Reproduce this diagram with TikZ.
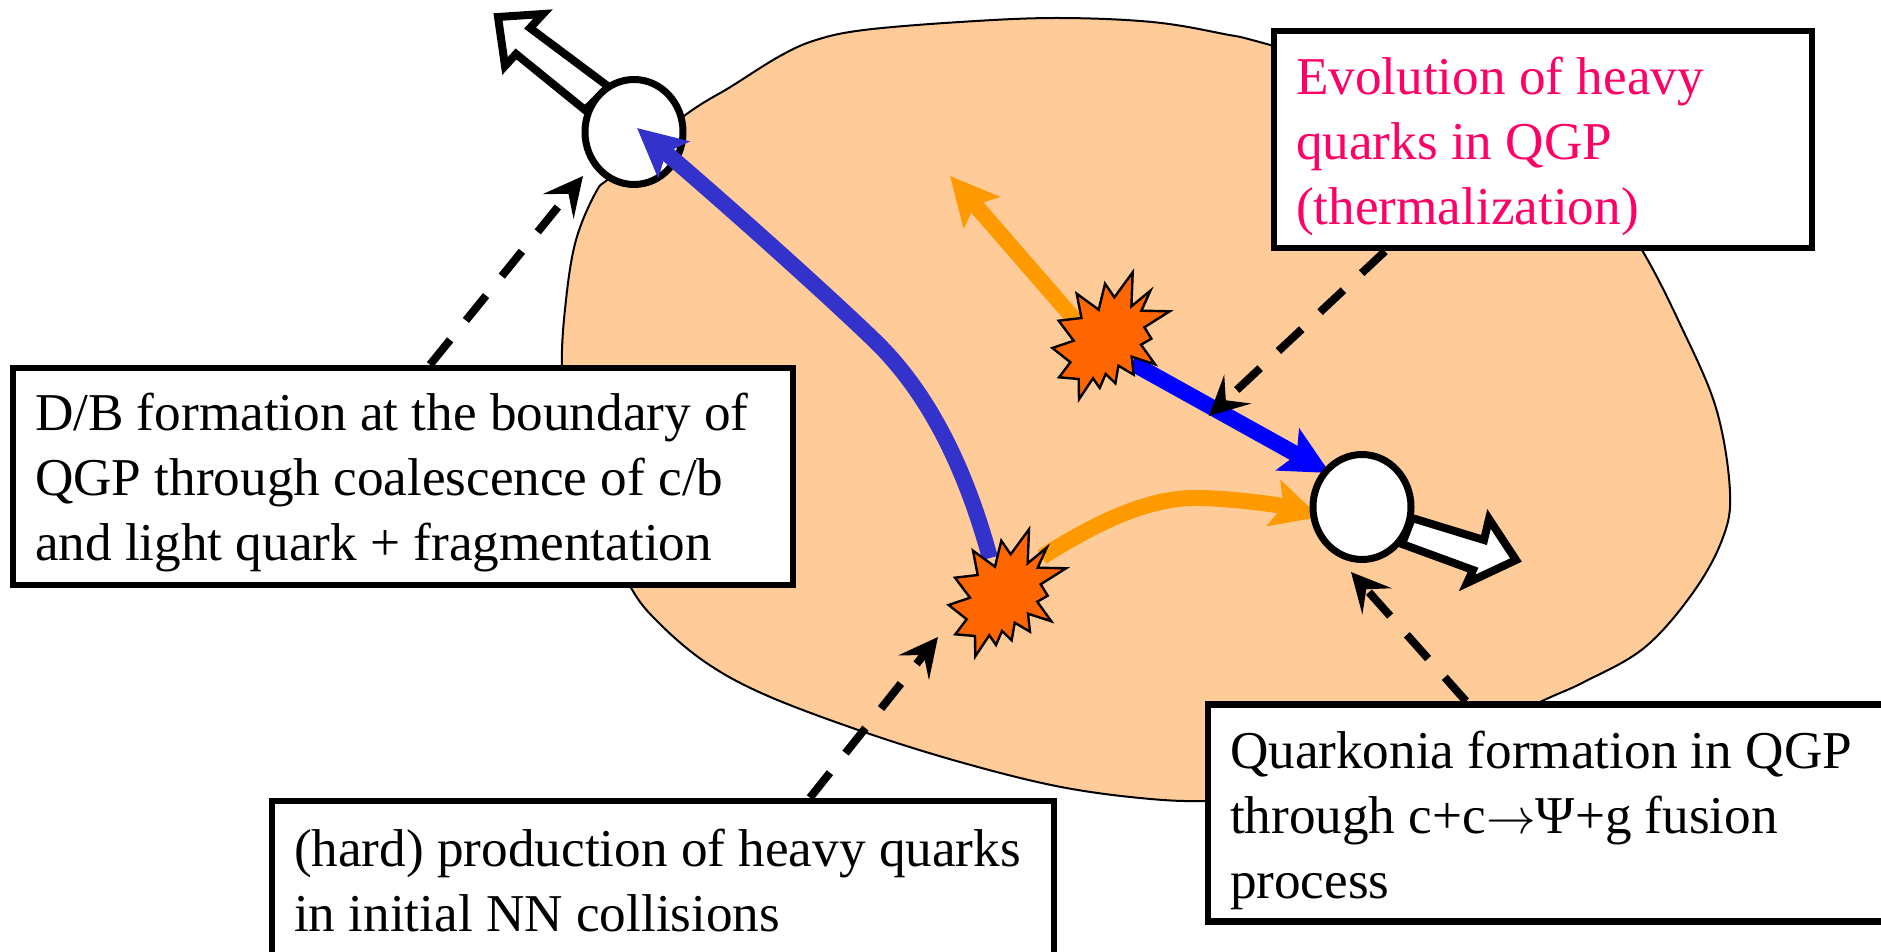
\documentclass[tikz,border=0pt]{standalone}
\usepackage{fontspec}
\setmainfont{Liberation Serif}
\usetikzlibrary{arrows.meta,shapes.geometric}
\definecolor{blobcol}{HTML}{FFCC99}
\definecolor{burstcol}{HTML}{FF6600}
\definecolor{orangearrow}{HTML}{FF9900}
\definecolor{darkblue}{HTML}{3333CC}
\definecolor{pureblue}{HTML}{0000FF}
\definecolor{pinktext}{HTML}{FF0066}
\newcommand{\burstshape}{(995,566.7)--(1001.3,540.7)--(1010.7,554.3)--(1029,529.3)--(1027.7,563.3)--(1046.7,547.7)--(1037.7,567.7)--(1066,568.3)--(1040.7,584.3)--(1047.7,595.7)--(1037.3,601.7)--(1051.3,621.3)--(1028,613.7)--(1030,631.7)--(1014.7,622.7)--(1011.7,640.3)--(1002,631)--(996,645)--(989.3,635.3)--(975.3,656.3)--(975,636)--(955.3,634.3)--(966.7,619.3)--(948.7,605)--(970,597.7)--(955,577.7)--(977.7,575)--(973,550.7)--cycle}
\newcommand{\tightsp}{\spaceskip=.25em\xspaceskip=.25em\relax}
\begin{document}
\begin{tikzpicture}[x=0.5pt,y=-0.5pt,
  textbox/.style={draw=black,line width=3.3pt,fill=white,align=left,inner ysep=0pt,inner xsep=11pt,font=\fontsize{26.6}{32.5}\selectfont,anchor=center},
  dashedconn/.style={draw=black,line width=4pt,dash pattern=on 16pt off 12.5pt,-{Stealth[length=19.5pt,width=19.5pt,inset=8pt]}},
  fatarrow/.style={line width=8pt,-{Stealth[length=24pt,width=23.5pt,inset=5pt]}},
  whitearrow/.style={draw=black,fill=white,line width=4pt,miter limit=10},
  burst/.style={draw=black,fill=burstcol,line width=1.2pt,line join=miter},
  ball/.style={draw=black,fill=white,line width=3.5pt,ellipse,minimum width=49pt,minimum height=52.5pt,inner sep=0pt},
]
\useasboundingbox (0,0) rectangle (1881,952);
% blob
\draw[fill=blobcol,draw=black,line width=1pt]
 plot[smooth cycle,tension=0.6] coordinates {(684,116)(732,86)(780,56)(816,40)(864,30)(960,22)(1056,18)(1152,22)(1224,34)(1274,46)
 (1500,110)(1590,170)(1642,250)(1680,324)(1716,408)(1730,492)(1722,540)(1692,594)(1644,648)(1584,682)(1540,702)
 (1440,750)(1300,795)(1208,801)(1140,798)(1056,786)(960,762)(864,732)(768,696)(708,664)(660,624)(630,586)(596,510)(570,430)(562,366)(566,300)(576,240)(596,192)(612,176)};
% named ends
\coordinate (tipA) at (637,128);
\coordinate (tipB) at (950,176);
\coordinate (tipC) at (1320,517);
\coordinate (tipD) at (1330,473);
\coordinate (startA) at (990,558);
\coordinate (midA) at (876,342);
\coordinate (startB) at (1075,320);
\coordinate (startC) at (1042,557);
\coordinate (midC) at (1195,498);
\coordinate (startD) at (1132,363);
% white arrows
\draw[whitearrow] (498,17)--(543,14)--(530,28)--(609,87)--(585,110)--(516,54)--(505,66)--cycle;
\draw[whitearrow] (1516,560)--(1489,519)--(1484,540)--(1412,518)--(1402,544)--(1473,570)--(1467,583)--cycle;
\node[ball] (ballA) at (634,132) {};
% arrows
\draw[draw=darkblue,fatarrow] (startA) .. controls (966,470) and (930,395) .. (midA) .. controls (840,307) and (750,225) .. (tipA);
\draw[draw=orangearrow,fatarrow] (startB) -- (tipB);
\draw[draw=orangearrow,fatarrow] (startC) .. controls (1100,520) and (1150,498) .. (midC) .. controls (1230,498) and (1280,505) .. (tipC);
\draw[draw=pureblue,fatarrow] (startD) -- (tipD);
\node[ball] (ballB) at (1362,507) {};
% bursts
\draw[burst] \burstshape;
\begin{scope}[shift={(103.7,-257)}]
\draw[burst] \burstshape;
\end{scope}
% boxes
\node[textbox,minimum width=390pt,minimum height=108.5pt,text width=368pt] (dbbox) at (403,476.5) {\rule{0pt}{25.2pt}\tightsp D/B formation at the boundary of\\QGP through coalescence of c/b\\and light quark + fragmentation};
\node[textbox,minimum width=391pt,minimum height=80pt,text width=369pt] (hardbox) at (663,881) {\tightsp (hard) production of heavy quarks\\in initial NN collisions};
\node[textbox,minimum width=342pt,minimum height=108.5pt,text width=320pt] (quarkbox) at (1550,813) {\rule{0pt}{26.6pt}\tightsp Quarkonia formation in QGP\\through c+c$\rightarrow$Ψ+g fusion\\process};
\node[textbox,minimum width=269pt,minimum height=108.5pt,text width=247pt,text=pinktext] (evolbox) at (1543,139.5) {\rule{0pt}{25.2pt}\tightsp Evolution of heavy\\quarks in QGP\\(thermalization)};
% dashed connectors
\coordinate (dashA) at (583,176);
\coordinate (dashB) at (938,637);
\coordinate (dashC) at (1209,416);
\coordinate (dashD) at (1351,572);
\draw[dashedconn] ([xshift=13.5pt]dbbox.north) -- (dashA);
\draw[dashedconn] ([xshift=73.5pt]hardbox.north) -- (dashB);
\draw[dashedconn] ([xshift=-79pt]evolbox.south) -- (dashC);
\draw[dashedconn] ([xshift=-42pt]quarkbox.north) -- (dashD);
\end{tikzpicture}
\end{document}
